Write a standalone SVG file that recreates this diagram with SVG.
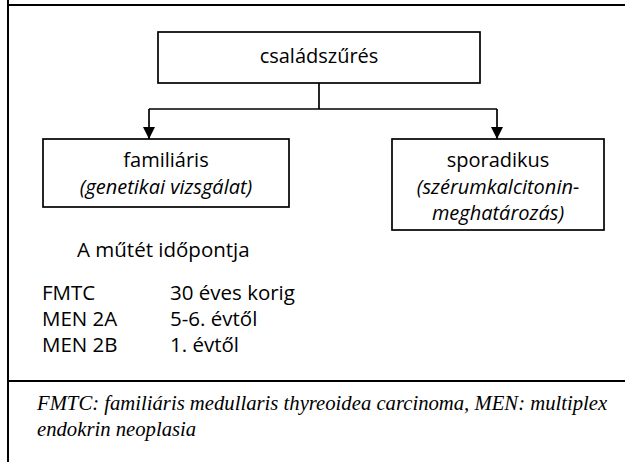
<svg xmlns="http://www.w3.org/2000/svg" width="625" height="462" viewBox="0 0 625 462">
<style>
.frame{stroke:#000;stroke-width:2;fill:none}
.box{fill:#fff;stroke:#000;stroke-width:1.7}
.conn{stroke:#000;stroke-width:1.7;fill:none}
.t{font-family:"Open Sans","Noto Sans",sans-serif;font-size:20px;fill:#000}
.b{font-size:20.5px}
.c{text-anchor:middle}
.i{font-style:italic}
.fn{font-family:"Liberation Serif","Times New Roman",serif;font-style:italic;font-size:20.7px;fill:#000}
</style>
<defs>
<marker id="arr" markerWidth="13" markerHeight="12" refX="12" refY="6" orient="auto" markerUnits="userSpaceOnUse">
<path d="M0,0 L12,6 L0,12 Z" fill="#000"/>
</marker>
</defs>
<g id="frame">
<line class="frame" x1="8" y1="0" x2="8" y2="462"/>
<line class="frame" x1="8" y1="5" x2="625" y2="5"/>
<line class="frame" x1="8" y1="381" x2="625" y2="381"/>
</g>
<g id="connectors">
<line class="conn" x1="319" y1="83" x2="319" y2="109"/>
<line class="conn" x1="149" y1="109" x2="497" y2="109"/>
<line class="conn" x1="149" y1="109" x2="149" y2="139" marker-end="url(#arr)"/>
<line class="conn" x1="497" y1="109" x2="497" y2="139" marker-end="url(#arr)"/>
</g>
<g id="node-csaladszures">
<rect class="box" x="158" y="32" width="322" height="51"/>
<text class="t c" x="319" y="63">családszűrés</text>
</g>
<g id="node-familiaris">
<rect class="box" x="43" y="139" width="246" height="68"/>
<text class="t c" x="166" y="167">familiáris</text>
<text class="t c i" x="166" y="194">(genetikai vizsgálat)</text>
</g>
<g id="node-sporadikus">
<rect class="box" x="392" y="139" width="212" height="91"/>
<text class="t c" x="498" y="167">sporadikus</text>
<text class="t c i" x="498" y="194">(szérumkalcitonin-</text>
<text class="t c i" x="498" y="220">meghatározás)</text>
</g>
<g id="timing">
<text class="t b" x="77" y="257">A műtét időpontja</text>
<text class="t b" x="42" y="300">FMTC</text>
<text class="t b" x="170" y="300">30 éves korig</text>
<text class="t b" x="42" y="326">MEN 2A</text>
<text class="t b" x="170" y="326">5-6. évtől</text>
<text class="t b" x="42" y="352">MEN 2B</text>
<text class="t b" x="170" y="352">1. évtől</text>
</g>
<g id="footnote">
<text class="fn" x="37" y="410">FMTC: familiáris medullaris thyreoidea carcinoma, MEN: multiplex</text>
<text class="fn" x="37" y="436">endokrin neoplasia</text>
</g>
</svg>
